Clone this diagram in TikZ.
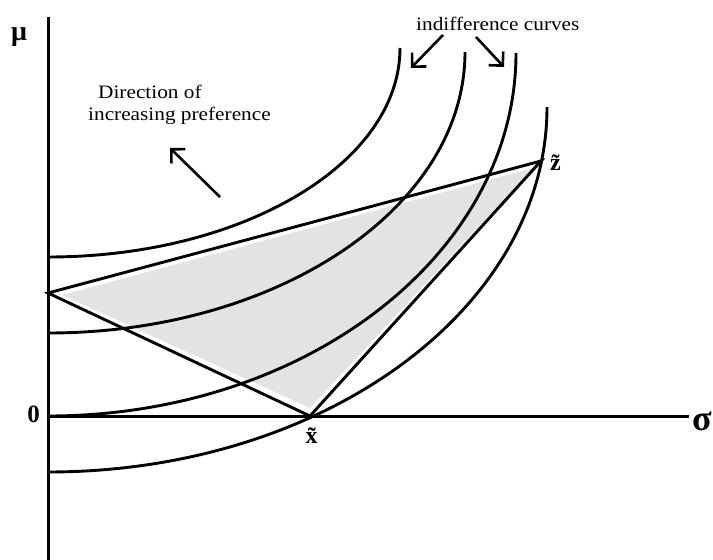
\documentclass[tikz,border=0pt]{standalone}
\usepackage{fontspec}
\setmainfont{Liberation Serif}
\usepackage{graphicx}
\usetikzlibrary{arrows.meta}
\definecolor{shadegray}{HTML}{E3E3E3}
\begin{document}
\begin{tikzpicture}[x=1pt,y=-1pt,
  curve/.style={line width=2.9pt},
  axisline/.style={line width=3pt},
  edge/.style={line width=2.9pt, line join=miter},
  pointer/.style={line width=2.6pt, -{Straight Barb[length=10pt,width=20pt]}},
  lbl/.style={inner sep=0pt, font=\fontsize{19}{22}\selectfont},
  sym/.style={inner sep=0pt}]
\useasboundingbox (0,0) rectangle (713,560);
% shaded feasible region
\fill[shadegray] (62,295) -- (533,168) -- (310,408) -- cycle;
% indifference curves
\draw[curve] (48,257) arc[start angle=90,end angle=0,x radius=352,y radius=209];
\draw[curve] (48,333) arc[start angle=90,end angle=0,x radius=417,y radius=281];
\draw[curve] (48,416) arc[start angle=90,end angle=0,x radius=468,y radius=363];
\draw[curve] (48,472) arc[start angle=90,end angle=0,x radius=499,y radius=365];
% axes
\coordinate (O) at (48,416);
\coordinate (ytop) at (48,17);
\coordinate (ybot) at (48,560);
\coordinate (xend) at (689,416);
\draw[axisline] (ytop) -- (ybot);
\draw[axisline] (O) -- (xend);
% triangle
\coordinate (A) at (48,293);
\coordinate (Z) at (541,161);
\coordinate (X) at (310,416);
\draw[edge] (A) -- (Z) -- (X) -- cycle;
% labels
\node[sym, font=\bfseries\fontsize{28}{32}\selectfont] (mu) at (19,37) {μ};
\node[sym, font=\bfseries\fontsize{25}{30}\selectfont] (zero) at (33.5,414) {0};
\node[sym, font=\bfseries\fontsize{36}{40}\selectfont] (sigma) at (702,421) {σ};
\node[sym, anchor=base, font=\bfseries\fontsize{24}{28}\selectfont] (xt) at (311.5,443) {x^^^^0303};
\node[sym, anchor=base, font=\bfseries\fontsize{24}{28}\selectfont] (zt) at (555.5,170) {z^^^^0303};
\node[lbl, anchor=base west] (dir1) at (98,98) {\scalebox{1.12}[1]{Direction of}};
\node[lbl, anchor=base west] (dir2) at (88,120) {\scalebox{1.12}[1]{increasing preference}};
\node[lbl, anchor=base west] (ic) at (416,30) {\scalebox{1.12}[1]{indifference curves}};
% arrows
\coordinate (p1s) at (220,197); \coordinate (p1e) at (170,148);
\coordinate (p2s) at (443,35);  \coordinate (p2e) at (411,68);
\coordinate (p3s) at (476,37);  \coordinate (p3e) at (504,67);
\draw[pointer] (p1s) -- (p1e);
\draw[pointer] (p2s) -- (p2e);
\draw[pointer] (p3s) -- (p3e);
\end{tikzpicture}
\end{document}
